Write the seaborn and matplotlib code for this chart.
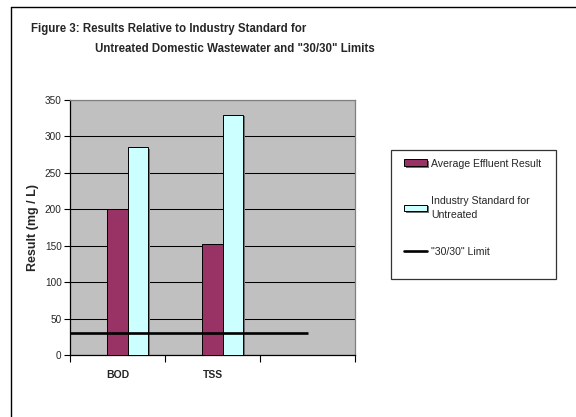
import matplotlib
matplotlib.use("Agg")
import matplotlib.pyplot as plt
import matplotlib.patheffects as pe
from matplotlib.patches import Rectangle
from matplotlib.lines import Line2D
import seaborn as sns
import pandas as pd

categories = ["BOD", "TSS", ""]
series_names = ["Average Effluent Result", "Industry Standard for\nUntreated"]
hidden_series = "_hidden"
avg_effluent = [200, 152]
industry_std = [285, 330]
limit_value = 30
limit_label = '"30/30" Limit'
yticks = [0, 50, 100, 150, 200, 250, 300, 350]
title1 = "Figure 3: Results Relative to Industry Standard for"
title2 = 'Untreated Domestic Wastewater and "30/30" Limits'
ylabel = "Result (mg / L)"

rows = []
for c, v in zip(categories[:2], avg_effluent):
    rows.append({"cat": c, "series": series_names[0], "val": v})
for c, v in zip(categories[:2], industry_std):
    rows.append({"cat": c, "series": series_names[1], "val": v})
df = pd.DataFrame(rows)

sns.set_style("white")
plt.rcParams["font.family"] = ["Liberation Sans", "DejaVu Sans"]

fig = plt.figure(figsize=(5.76, 4.17), dpi=100)
fig.patch.set_facecolor("white")
W, H = 576, 417
ax = fig.add_axes([70 / W, 1 - 355 / H, 285 / W, 255 / H])
ax.set_facecolor("#C0C0C0")

sns.barplot(data=df, x="cat", y="val", hue="series", order=categories,
            hue_order=[hidden_series] + series_names,
            palette=["#C0C0C0", "#993366", "#CCFFFF"],
            width=0.647, edgecolor="black", linewidth=0.7, ax=ax, zorder=3,
            err_kws={"linewidth": 0}, saturation=1)
for p in ax.patches:
    p.set_path_effects([pe.SimplePatchShadow(offset=(1.5, -1.0), shadow_rgbFace="#707070", alpha=1.0), pe.Normal()])

h0, l0 = ax.get_legend_handles_labels()
if ax.get_legend() is not None:
    ax.get_legend().remove()
hmap = dict(zip(l0, h0))

ax.hlines(limit_value, -0.5, 2.0, colors="black", linewidth=1.9, zorder=4)
handles = [hmap[s] for s in series_names] + [Line2D([0], [0], color="black", linewidth=1.9)]
labels = series_names + [limit_label]

ax.set_xlim(-0.5, 2.5)
ax.set_ylim(0, 350)
ax.set_yticks(yticks)
ax.set_yticklabels([str(t) for t in yticks], fontsize=7.2)
ax.yaxis.grid(True, color="black", linewidth=0.75, zorder=1)
ax.set_axisbelow(True)

ax.set_xticks([-0.5, 0.5, 1.5, 2.5])
ax.set_xticklabels([])
ax.set_xticks([0, 1, 2], minor=True)
ax.set_xticklabels(categories, minor=True, fontsize=7.5, fontweight="bold")
ax.tick_params(axis="x", which="major", direction="out", length=5, width=0.8, color="black", bottom=True)
ax.tick_params(axis="x", which="minor", length=0, pad=11)
ax.tick_params(axis="y", direction="out", length=4, width=0.8, color="black", left=True, pad=2)
ax.set_xlabel("")
ax.set_ylabel(ylabel, fontsize=9, fontweight="bold", labelpad=4)

for s in ["left", "bottom"]:
    ax.spines[s].set_color("black")
    ax.spines[s].set_linewidth(0.9)
for s in ["top", "right"]:
    ax.spines[s].set_color("#808080")
    ax.spines[s].set_linewidth(0.9)

fig.text(31 / W, 1 - 31.7 / H, title1, fontsize=8.3, fontweight="bold", ha="left", va="baseline")
fig.text(95 / W, 1 - 51.7 / H, title2, fontsize=8.3, fontweight="bold", ha="left", va="baseline")

fig.patches.append(Rectangle((391 / W, 1 - 279 / H), 165 / W, 129 / H,
                             transform=fig.transFigure, facecolor="white",
                             edgecolor="#333333", linewidth=0.9, zorder=1))
leg = fig.legend(handles, labels, loc="upper left", bbox_to_anchor=(404 / W, 1 - 158.5 / H),
                 frameon=False, fontsize=7.6, borderpad=0, borderaxespad=0,
                 handlelength=2.2, handleheight=0.6, handletextpad=0.4, labelspacing=2.6)
for t in leg.get_texts():
    t.set_linespacing(1.45)
leg.set_zorder(5)

fig.add_artist(Line2D([11 / W, 1], [1 - 7 / H, 1 - 7 / H], transform=fig.transFigure, color="black", linewidth=1.0))
fig.add_artist(Line2D([11 / W, 11 / W], [0, 1 - 7 / H], transform=fig.transFigure, color="black", linewidth=1.0))

fig.savefig("out.png", dpi=100)
